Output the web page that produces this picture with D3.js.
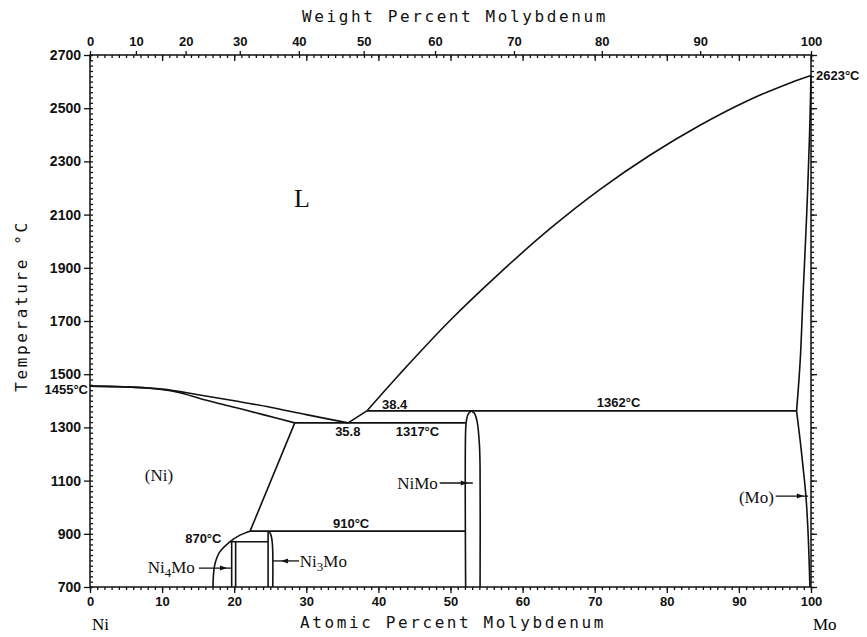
<!DOCTYPE html>
<html lang="en">
<head>
<meta charset="UTF-8">
<title>Ni-Mo phase diagram</title>
<script src="https://d3js.org/d3.v7.min.js"></script>
<style>
  body { margin: 0; background: #fff; }
</style>
</head>
<body>
<script>
// tick labels
const tempTicks = [700, 900, 1100, 1300, 1500, 1700, 1900, 2100, 2300, 2500, 2700];
const atTicks = [0, 10, 20, 30, 40, 50, 60, 70, 80, 90, 100];
const wtTicks = [0, 10, 20, 30, 40, 50, 60, 70, 80, 90, 100];

// phase boundaries, [at.% Mo, T in C]
const liquidusNi = [[0,1455],[5,1452],[10,1444],[15,1423],[20,1400],[25,1376],[30,1348],[35.8,1317]];
const solidusNi = [[0,1455],[4,1453],[8,1448],[12,1433],[16,1403],[20,1376],[24,1348],[28.4,1317]];
const eutecticLink = [[35.8,1317],[38.4,1362]];
const liquidusMo = [[38.4,1362],[43,1502],[49.9,1701],[56.9,1882],[63.8,2047],[70.7,2194],[77.7,2324],[84.6,2436],[91.5,2532],[97.1,2595],[100,2623]];
const solidusMo = [[100,2623],[99.8,2400],[99.4,2100],[98.9,1800],[98.5,1550],[98.0,1362]];
const solvusMo = [[98.0,1362],[98.5,1250],[98.9,1150],[99.3,1040],[99.6,900],[99.85,700]];
const solvusNiHigh = [[28.4,1317],[22.2,910]];
const solvusNiLow = [[22.2,910],[20.8,895],[19.4,870],[18.0,832],[17.3,783],[17.05,700]];
const niMoLeft = [[52.1,700],[52.1,1290],[52.2,1325],[52.45,1350],[52.9,1362]];
const niMoRight = [[52.9,1362],[53.3,1354],[53.7,1320],[54.0,1240],[54.1,1150],[54.1,700]];
const ni3MoLeft = [[24.7,700],[24.7,910]];
const ni3MoRight = [[24.8,910],[25.1,895],[25.3,860],[25.35,700]];
const ni4MoLeft = [[19.65,700],[19.65,870]];
const ni4MoRight = [[20.2,700],[20.2,870]];

// invariant lines
const isoT = [1362, 1317, 910, 870];
const isoFrom = [38.4, 28.4, 22.2, 19.4];
const isoTo = [98.0, 52.1, 52.1, 24.7];

const width = 867, height = 637;

const svg = d3.select('body').append('svg')
  .attr('width', width).attr('height', height)
  .style('font-family', 'Liberation Sans, Arial, sans-serif');

const x = d3.scaleLinear().domain([0, 100]).range([90, 811]);
const y = d3.scaleLinear().domain([700, 2700]).range([587, 55]);

// weight % -> atomic % (Ni 58.69, Mo 95.94)
const wtToAt = w => { const a = w / 95.94, b = (100 - w) / 58.69; return 100 * a / (a + b); };
const xw = d3.scaleLinear().domain(wtTicks).range(wtTicks.map(w => x(wtToAt(w))));

const tickFont = sel => sel.selectAll('text')
  .style('font-family', 'Liberation Sans, Arial, sans-serif')
  .style('font-weight', 'bold')
  .style('fill', '#111');

function clean(g) {
  g.select('.domain').remove();
  g.selectAll('line').attr('stroke', '#111').attr('stroke-width', 1.3);
}

// bottom axis
svg.append('g').attr('transform', `translate(0,${y(700)})`)
  .call(d3.axisBottom(x).tickValues(d3.range(0, 101, 1)).tickSize(3).tickFormat(''))
  .call(clean);
svg.append('g').attr('transform', `translate(0,${y(700)})`)
  .call(d3.axisBottom(x).tickValues(atTicks).tickSize(6).tickPadding(4))
  .call(clean).call(tickFont)
  .selectAll('text').style('font-size', '13px');

// top axis: atomic ticks inside, weight % labels outside
svg.append('g').attr('transform', `translate(0,${y(2700)})`)
  .call(d3.axisBottom(x).tickValues(d3.range(0, 101, 1)).tickSize(3).tickFormat(''))
  .call(clean);
svg.append('g').attr('transform', `translate(0,${y(2700)})`)
  .call(d3.axisBottom(x).tickValues(atTicks).tickSize(6).tickFormat(''))
  .call(clean);
svg.append('g').attr('transform', `translate(0,${y(2700)})`)
  .call(d3.axisTop(xw).tickValues(wtTicks).tickSize(4).tickPadding(5))
  .call(clean).call(tickFont)
  .selectAll('text').style('font-size', '13px');

// left axis
svg.append('g').attr('transform', `translate(${x(0)},0)`)
  .call(d3.axisRight(y).tickValues(d3.range(700, 2701, 20)).tickSize(3).tickFormat(''))
  .call(clean);
svg.append('g').attr('transform', `translate(${x(0)},0)`)
  .call(d3.axisLeft(y).tickValues(tempTicks).tickSize(6).tickPadding(3).tickFormat(d3.format('d')))
  .call(clean).call(tickFont)
  .selectAll('text').style('font-size', '14px');

// right axis
svg.append('g').attr('transform', `translate(${x(100)},0)`)
  .call(d3.axisRight(y).tickValues(d3.range(700, 2701, 20)).tickSize(3).tickFormat(''))
  .call(clean);
svg.append('g').attr('transform', `translate(${x(100)},0)`)
  .call(d3.axisRight(y).tickValues(tempTicks).tickSize(6).tickFormat(''))
  .call(clean);

// frame
svg.append('rect')
  .attr('x', x(0)).attr('y', y(2700))
  .attr('width', x(100) - x(0)).attr('height', y(700) - y(2700))
  .attr('fill', 'none').attr('stroke', '#111').attr('stroke-width', 1.5);

// boundaries
const curve = d3.line().x(d => x(d[0])).y(d => y(d[1])).curve(d3.curveCatmullRom.alpha(0.5));
const straight = d3.line().x(d => x(d[0])).y(d => y(d[1]));

const curved = [liquidusNi, solidusNi, liquidusMo, solidusMo, solvusMo, solvusNiLow, niMoLeft, niMoRight, ni3MoRight];
const lines = [eutecticLink, solvusNiHigh, ni3MoLeft, ni4MoLeft, ni4MoRight];

const plot = svg.append('g').attr('fill', 'none').attr('stroke', '#111').attr('stroke-width', 1.6)
  .attr('stroke-linejoin', 'round');
plot.selectAll('path.c').data(curved).join('path').attr('class', 'c').attr('d', curve);
plot.selectAll('path.s').data(lines).join('path').attr('class', 's').attr('d', straight);
plot.selectAll('line.iso').data(isoT).join('line').attr('class', 'iso')
  .attr('x1', (d, i) => x(isoFrom[i])).attr('x2', (d, i) => x(isoTo[i]))
  .attr('y1', d => y(d)).attr('y2', d => y(d));

// arrows: [fromAt, toAt, T, tipAt]
const arrows = [[48.5, 53.1, 1091, 52.4], [95.1, 99.6, 1042, 99.0], [15.1, 19.7, 771, 19.0], [29.0, 25.4, 798, 26.5]];
const ag = svg.append('g');
arrows.forEach(a => {
  ag.append('line').attr('x1', x(a[0])).attr('x2', x(a[1])).attr('y1', y(a[2])).attr('y2', y(a[2]))
    .attr('stroke', '#111').attr('stroke-width', 1.3);
  const dir = a[1] > a[0] ? 1 : -1, tx = x(a[3]), ty = y(a[2]);
  ag.append('path').attr('d', `M${tx},${ty}L${tx - dir * 7},${ty - 2.5}L${tx - dir * 7},${ty + 2.5}Z`)
    .attr('fill', '#111');
});

// value labels
const small = (t, at, T, anchor) => svg.append('text').attr('x', x(at)).attr('y', y(T))
  .attr('text-anchor', anchor || 'start')
  .style('font-size', '13px').style('font-weight', 'bold').style('fill', '#111').text(t);
small('870°C', 13.2, 865);
small('910°C', 33.7, 922);
small('35.8', 34.0, 1268);
small('38.4', 40.5, 1369);
small('1317°C', 42.4, 1268);
small('1362°C', 70.3, 1377);
svg.append('text').attr('x', x(0) - 2).attr('y', y(1455) + 8).attr('text-anchor', 'end')
  .style('font-size', '13px').style('font-weight', 'bold').style('fill', '#111').text('1455°C');
svg.append('text').attr('x', x(100) + 5).attr('y', y(2623) + 5)
  .style('font-size', '13px').style('font-weight', 'bold').style('fill', '#111').text('2623°C');

// phase labels
const serif = (at, T, size) => svg.append('text').attr('x', x(at)).attr('y', y(T))
  .style('font-family', 'Liberation Serif, Times New Roman, serif')
  .style('font-size', size + 'px').style('fill', '#111');
serif(28.3, 2129, 26).text('L');
serif(7.6, 1098, 17).text('(Ni)');
serif(42.6, 1068, 17).text('NiMo');
serif(90.0, 1016, 17).text('(Mo)');
const n4 = serif(8.0, 753, 17);
n4.append('tspan').text('Ni');
n4.append('tspan').attr('dy', 4).style('font-size', '13px').text('4');
n4.append('tspan').attr('dy', -4).text('Mo');
const n3 = serif(29.1, 775, 17);
n3.append('tspan').text('Ni');
n3.append('tspan').attr('dy', 4).style('font-size', '13px').text('3');
n3.append('tspan').attr('dy', -4).text('Mo');

// axis titles
const mono = sel => sel.style('font-family', 'DejaVu Sans Mono, monospace')
  .style('font-size', '16px').style('letter-spacing', '2.6px').style('fill', '#111');
svg.append('text').attr('x', 455).attr('y', 22).attr('text-anchor', 'middle')
  .call(mono).text('Weight Percent Molybdenum');
svg.append('text').attr('x', 453).attr('y', 628).attr('text-anchor', 'middle')
  .call(mono).text('Atomic Percent Molybdenum');
svg.append('text').attr('transform', 'translate(27,306) rotate(-90)').attr('text-anchor', 'middle')
  .call(mono).text('Temperature °C');
svg.append('text').attr('x', 92).attr('y', 630)
  .style('font-family', 'Liberation Serif, serif').style('font-size', '17px').text('Ni');
svg.append('text').attr('x', 813).attr('y', 630)
  .style('font-family', 'Liberation Serif, serif').style('font-size', '17px').text('Mo');
</script>
</body>
</html>
